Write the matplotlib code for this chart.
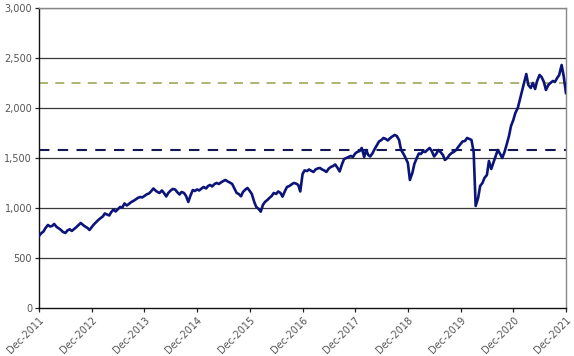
import matplotlib
matplotlib.use("Agg")
import matplotlib.pyplot as plt
import pandas as pd

# semi-monthly index levels, Dec-2011 .. Dec-2021
y2012 = [720, 745, 765, 800, 830, 815, 820, 840, 810, 797, 780, 760,
         750, 775, 787, 770, 790, 807, 830, 850, 830, 815, 800, 780]
y2013 = [810, 835, 860, 880, 900, 915, 945, 935, 925, 960, 985, 965,
         990, 1010, 1005, 1045, 1025, 1040, 1060, 1070, 1085, 1100, 1110, 1105]
y2014 = [1120, 1135, 1145, 1165, 1195, 1175, 1160, 1150, 1175, 1150, 1115, 1150,
         1175, 1190, 1185, 1160, 1135, 1160, 1150, 1120, 1060, 1120, 1180, 1170]
y2015 = [1185, 1175, 1195, 1210, 1195, 1220, 1230, 1215, 1240, 1250, 1240, 1255,
         1270, 1280, 1265, 1255, 1240, 1200, 1150, 1140, 1117, 1160, 1185, 1200]
y2016 = [1170, 1140, 1060, 1010, 990, 963, 1030, 1060, 1080, 1100, 1120, 1150,
         1140, 1165, 1150, 1113, 1170, 1210, 1220, 1235, 1250, 1245, 1230, 1165]
y2017 = [1340, 1375, 1370, 1385, 1370, 1360, 1385, 1395, 1400, 1385, 1375, 1360,
         1395, 1410, 1420, 1435, 1400, 1365, 1440, 1490, 1500, 1510, 1520, 1510]
y2018 = [1545, 1560, 1570, 1600, 1510, 1580, 1530, 1515, 1550, 1590, 1630, 1665,
         1680, 1700, 1690, 1675, 1700, 1715, 1730, 1720, 1680, 1580, 1540, 1500]
y2019 = [1450, 1280, 1350, 1440, 1500, 1545, 1540, 1565, 1560, 1580, 1600, 1570,
         1515, 1540, 1580, 1560, 1530, 1480, 1500, 1530, 1550, 1560, 1580, 1610]
y2020 = [1640, 1665, 1670, 1700, 1690, 1680, 1560, 1020, 1100, 1220, 1250, 1300,
         1330, 1470, 1390, 1450, 1520, 1580, 1540, 1500, 1560, 1630, 1720, 1820]
y2021 = [1880, 1950, 2000, 2080, 2180, 2260, 2340, 2230, 2200, 2250, 2190, 2270,
         2330, 2310, 2260, 2180, 2230, 2250, 2270, 2260, 2300, 2330, 2430, 2320, 2150]

levels = y2012 + y2013 + y2014 + y2015 + y2016 + y2017 + y2018 + y2019 + y2020 + y2021
dates = pd.date_range("2011-12-01", periods=len(levels), freq="SMS")

upper_ref = 2250
lower_ref = 1580

tick_years = list(range(2011, 2022))
tick_dates = [pd.Timestamp(f"{y}-12-01") for y in tick_years]
tick_labels = [f"Dec-{y}" for y in tick_years]
y_ticks = [0, 500, 1000, 1500, 2000, 2500, 3000]

fig = plt.figure(figsize=(5.74, 3.56), dpi=100)
ax = fig.add_axes([0.068, 0.135, 0.918, 0.8425])

for v in y_ticks[1:]:
    ax.axhline(v, color="#3a3a3a", lw=0.9, zorder=1)

ax.axhline(upper_ref, color="#a8ad68", lw=1.3, dashes=(5, 4), zorder=2)
ax.axhline(lower_ref, color="#141852", lw=1.5, dashes=(5, 4), zorder=2)

ax.plot(dates, levels, color="#0b1478", lw=1.9, zorder=3)

ax.set_xlim(tick_dates[0], tick_dates[-1])
ax.set_ylim(0, 3000)
ax.set_xticks(tick_dates)
ax.set_xticklabels(tick_labels, rotation=45, ha="right", rotation_mode="anchor")
ax.set_yticks(y_ticks)
ax.set_yticklabels([f"{v:,}" for v in y_ticks])
ax.tick_params(axis="both", labelsize=7, labelcolor="#555555", length=3,
               width=0.9, color="#222222", pad=2)

ax.spines["left"].set_color("#111111")
ax.spines["bottom"].set_color("#111111")
ax.spines["right"].set_color("#888888")
ax.spines["top"].set_color("#888888")
for s in ax.spines.values():
    s.set_linewidth(1.0)

fig.savefig("out.png", dpi=100)
